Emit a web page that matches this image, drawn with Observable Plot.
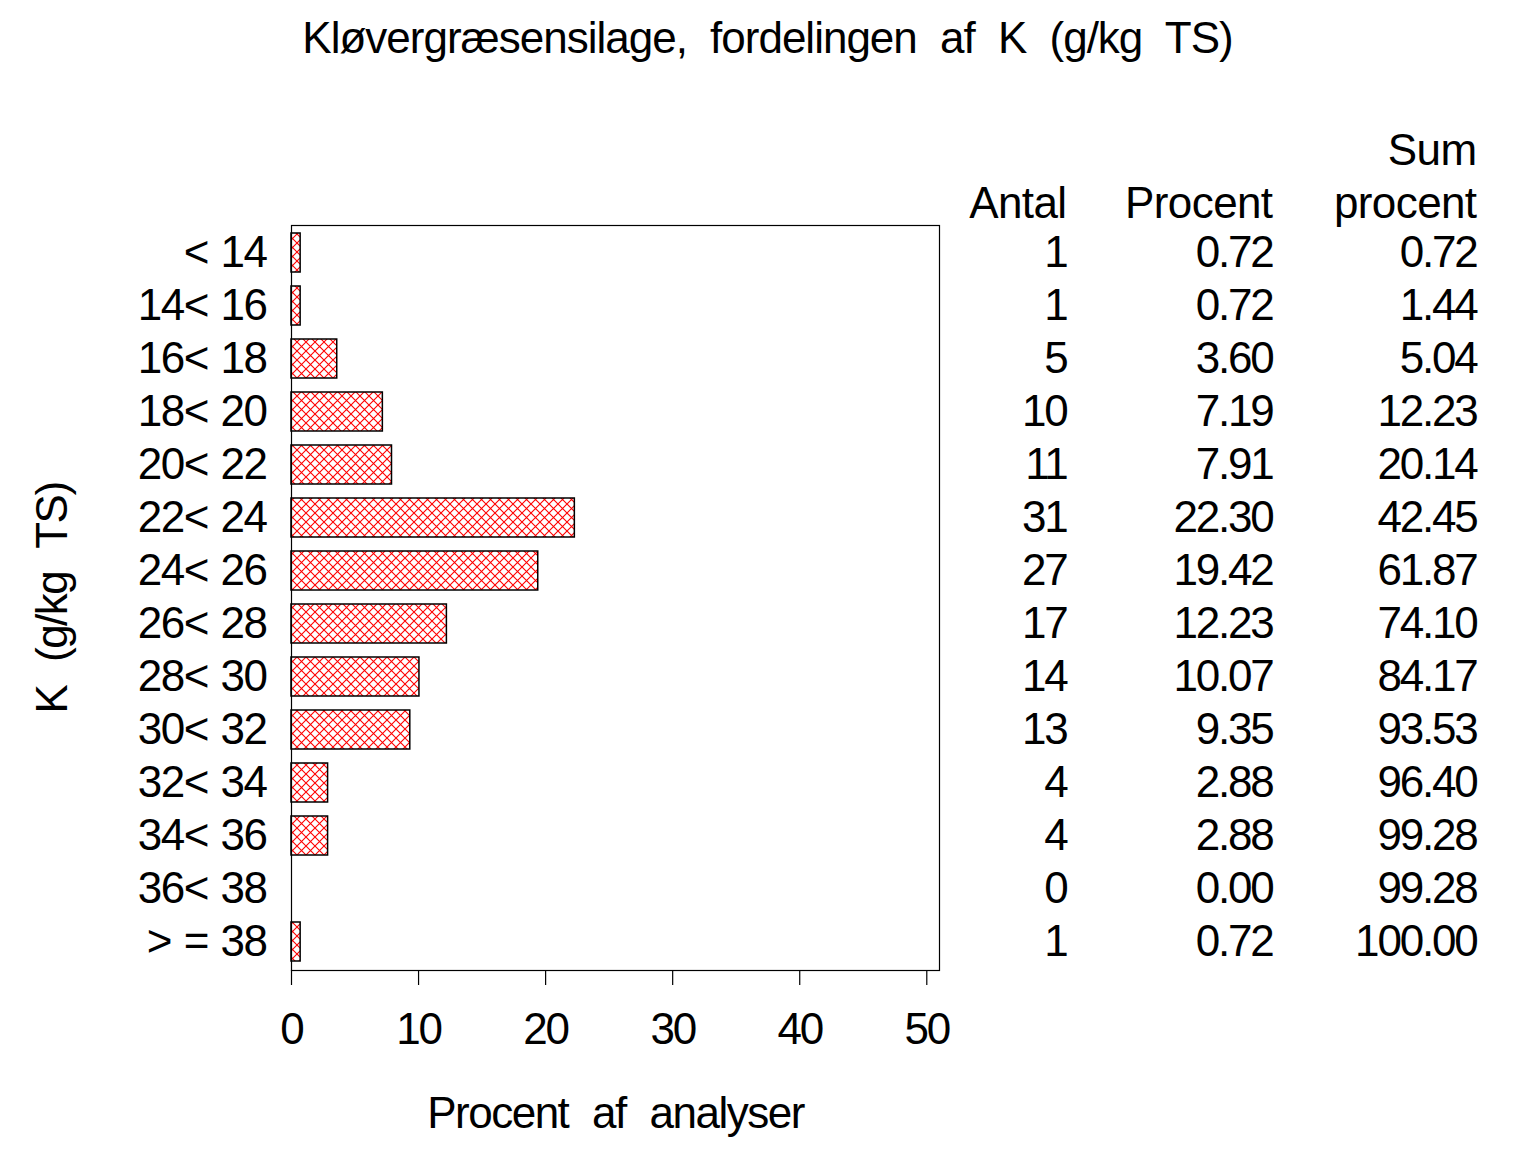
<!DOCTYPE html>
<html>
<head>
<meta charset="utf-8">
<script src="https://cdn.jsdelivr.net/npm/d3@7"></script>
<script src="https://cdn.jsdelivr.net/npm/@observablehq/plot@0.6"></script>
<style>
  html, body { margin: 0; padding: 0; background: #fff; }
  #chart svg { display: block; }
  .tight text { letter-spacing: -2.2px; }
  .cat text { letter-spacing: -1.5px; word-spacing: 2px; }
  .head text { letter-spacing: -0.6px; }
  .wide text { letter-spacing: -1.5px; word-spacing: 13px; }
  .ttl text { letter-spacing: -1px; word-spacing: 12px; }
</style>
</head>
<body>
<div id="chart"></div>
<script>
// ---- data ----
const categories = ["< 14", "14< 16", "16< 18", "18< 20", "20< 22", "22< 24", "24< 26",
  "26< 28", "28< 30", "30< 32", "32< 34", "34< 36", "36< 38", "> = 38"];
const counts = [1, 1, 5, 10, 11, 31, 27, 17, 14, 13, 4, 4, 0, 1];
const percents = [0.72, 0.72, 3.60, 7.19, 7.91, 22.30, 19.42, 12.23, 10.07, 9.35, 2.88, 2.88, 0.00, 0.72];
const cumPercents = [0.72, 1.44, 5.04, 12.23, 20.14, 42.45, 61.87, 74.10, 84.17, 93.53, 96.40, 99.28, 99.28, 100.00];
const xTicks = [0, 10, 20, 30, 40, 50];
const titleText = "Kløvergræsensilage, fordelingen af K (g/kg TS)";
const xLabel = "Procent af analyser";
const yLabel = "K (g/kg TS)";
const headAntal = "Antal";
const headProcent = "Procent";
const headSum1 = "Sum";
const headSum2 = "procent";

const rows = categories.map((c, i) => ({cat: c, n: counts[i], pct: percents[i], cum: cumPercents[i]}));

// pattern definition mark
function hatchDefs() {
  const g = d3.create("svg:g");
  const defs = g.append("defs");
  const p = defs.append("pattern")
    .attr("id", "hatch")
    .attr("patternUnits", "userSpaceOnUse")
    .attr("width", 9).attr("height", 9);
  p.append("rect").attr("width", 9).attr("height", 9).attr("fill", "white");
  p.append("path").attr("d", "M-1,-1L10,10M10,-1L-1,10")
    .attr("stroke", "#ff0000").attr("stroke-width", 1.1).attr("fill", "none");
  return g.node();
}

const FS = 44;
const frameRight = 939;

const chart = Plot.plot({
  width: 1536,
  height: 1152,
  marginLeft: 291,
  marginRight: 1536 - frameRight,
  marginTop: 225,
  marginBottom: 182,
  style: {fontFamily: "'Liberation Sans', Arial, sans-serif", fontSize: FS + "px", color: "black", background: "white"},
  x: {domain: [0, 51]},
  y: {domain: categories, paddingInner: 0.26, paddingOuter: 0.13},
  marks: [
    hatchDefs,
    Plot.barX(rows, {x: "pct", y: "cat", fill: "url(#hatch)", stroke: "black", strokeWidth: 1.5}),
    Plot.frame({stroke: "black", strokeWidth: 1.2}),
    Plot.axisX({ticks: xTicks, tickSize: 15, tickPadding: 27, fontSize: FS, label: null, className: "tight", strokeWidth: 1.2}),
    Plot.axisY({tickSize: 0, tickPadding: 25, fontSize: FS, label: null, className: "cat"}),
    // table columns
    Plot.text(rows, {y: "cat", text: d => String(d.n), frameAnchor: "right", textAnchor: "end", dx: 1066 - frameRight, fontSize: FS, className: "tight"}),
    Plot.text(rows, {y: "cat", text: d => d.pct.toFixed(2), frameAnchor: "right", textAnchor: "end", dx: 1272 - frameRight, fontSize: FS, className: "tight"}),
    Plot.text(rows, {y: "cat", text: d => d.cum.toFixed(2), frameAnchor: "right", textAnchor: "end", dx: 1476 - frameRight, fontSize: FS, className: "tight"}),
    // table headers
    Plot.text([headAntal], {text: d => d, frameAnchor: "top-right", textAnchor: "end", lineAnchor: "top", dx: 1066 - frameRight, dy: 186 - 225, fontSize: FS, className: "head"}),
    Plot.text([headProcent], {text: d => d, frameAnchor: "top-right", textAnchor: "end", lineAnchor: "top", dx: 1272 - frameRight, dy: 186 - 225, fontSize: FS, className: "head"}),
    Plot.text([headSum1], {text: d => d, frameAnchor: "top-right", textAnchor: "end", lineAnchor: "top", dx: 1476 - frameRight, dy: 133 - 225, fontSize: FS, className: "head"}),
    Plot.text([headSum2], {text: d => d, frameAnchor: "top-right", textAnchor: "end", lineAnchor: "top", dx: 1476 - frameRight, dy: 186 - 225, fontSize: FS, className: "head"}),
    // axis labels
    Plot.text([xLabel], {text: d => d, frameAnchor: "bottom", textAnchor: "middle", lineAnchor: "top", dy: 1096 - 970, fontSize: FS, className: "wide"}),
    Plot.text([yLabel], {text: d => d, frameAnchor: "left", textAnchor: "middle", lineAnchor: "middle", rotate: -90, dx: 52 - 291, fontSize: FS, className: "wide"}),
    // title
    Plot.text([titleText], {text: d => d, frameAnchor: "top", textAnchor: "middle", lineAnchor: "top", dx: 767 - 615, dy: 21 - 225, fontSize: FS, className: "ttl"})
  ]
});

document.getElementById("chart").appendChild(chart);
</script>
</body>
</html>
